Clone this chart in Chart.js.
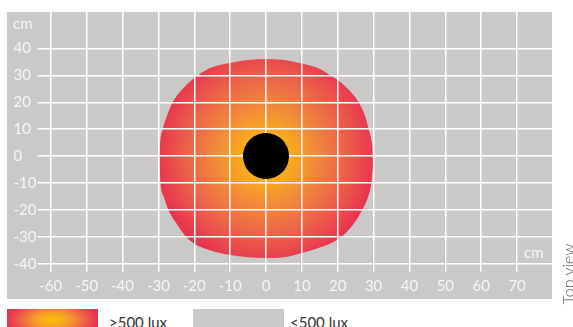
<!DOCTYPE html>
<html>
<head>
<meta charset="utf-8">
<script src="https://cdn.jsdelivr.net/npm/chart.js@4/dist/chart.umd.min.js"></script>
<style>
  html, body { margin: 0; padding: 0; background: #ffffff; overflow: hidden; }
  body { width: 573px; height: 327px; position: relative; font-family: Lato, "Noto Sans", sans-serif; }
  #wrap { position: absolute; left: 7px; top: 12px; width: 545px; height: 287px; background: #cbc9c7; }
  .unit { position: absolute; font-size: 15px; line-height: 18px; color: #f6f6f6; white-space: nowrap; }
  .swatch { position: absolute; top: 309px; width: 91px; height: 22px; }
  .leg { position: absolute; top: 313px; font-size: 15px; line-height: 18px; color: #333333; white-space: nowrap; }
  #side { position: absolute; left: 567.5px; top: 274px; transform: translate(-50%, -50%) rotate(-90deg);
          font-size: 16px; line-height: 18px; color: #5a5a5a; white-space: nowrap; font-weight: 300; }
</style>
</head>
<body>
<div id="wrap"><canvas id="c"></canvas></div>
<span class="unit" id="unitY" style="left:13px; top:14px;"></span>
<span class="unit" id="unitX" style="left:524px; top:243px;"></span>
<div class="swatch" style="left:7px; background: radial-gradient(ellipse 50% 90% at 50% 50%, #fcc204 0%, #f59a2c 40%, #ec5a48 75%, #e8334d 100%);"></div>
<span class="leg" id="leg0" style="left:109px;"></span>
<div class="swatch" style="left:193px; background:#cbc9c7;"></div>
<span class="leg" id="leg1" style="left:290px;"></span>
<span id="side"></span>
<script>
// ---- data (cm) ----
const xTicks = [-60, -50, -40, -30, -20, -10, 0, 10, 20, 30, 40, 50, 60, 70];
const yTicks = [-40, -30, -20, -10, 0, 10, 20, 30, 40];
const unitLabel = 'cm';
const legendLabels = ['>500 lux', '<500 lux'];
const sideLabel = 'Top view';

// upper edge of the >500 lux zone
const upperX = [-29.7, -29.5, -28.8, -27.6, -26.0, -23.2, -19.0, -15.0, -10.0, -5.0, 0.0, 5.0, 10.0, 15.0, 18.0, 22.0, 25.8, 27.6, 28.6, 29.5, 29.8];
const upperY = [0, 5, 10, 15, 20, 25, 30, 33.0, 34.6, 35.7, 36.1, 35.7, 34.4, 32.4, 30, 26, 20, 15, 10, 5, 0];
// lower edge of the >500 lux zone
const lowerX = [-29.7, -29.6, -29.4, -28.5, -27.2, -25.0, -22.3, -20.0, -15.0, -10.0, -5.0, 0.0, 5.0, 10.0, 15.0, 20.0, 22.5, 24.8, 26.8, 28.5, 29.4, 29.8, 29.8];
const lowerY = [0, -5, -10, -15, -20, -25, -30, -32.6, -35.3, -36.8, -37.6, -37.9, -37.6, -36.0, -34.0, -31.0, -28.2, -24.5, -20, -15, -10, -5, 0];
// lamp position
const lampX = [0];
const lampY = [0];

document.getElementById('unitY').textContent = unitLabel;
document.getElementById('unitX').textContent = unitLabel;
document.getElementById('leg0').textContent = legendLabels[0];
document.getElementById('leg1').textContent = legendLabels[1];
document.getElementById('side').textContent = sideLabel;

const toPts = (xs, ys) => xs.map((x, i) => ({ x: x, y: ys[i] }));

function zoneGradient(context) {
  const chart = context.chart;
  if (!chart.chartArea) return '#ee7048';
  const cx = chart.scales.x.getPixelForValue(lampX[0]);
  const cy = chart.scales.y.getPixelForValue(lampY[0]);
  const g = chart.ctx.createRadialGradient(cx, cy, 0, cx, cy, 110);
  g.addColorStop(0.0, '#fbbd0e');
  g.addColorStop(0.22, '#f8ab1c');
  g.addColorStop(0.45, '#f18a3a');
  g.addColorStop(0.70, '#ec6648');
  g.addColorStop(0.92, '#e9414e');
  g.addColorStop(1.0, '#e8334d');
  return g;
}

// draw the lamp point again after the grid so it sits on top of the white lines
const lampOnTop = {
  id: 'lampOnTop',
  afterDraw(chart) {
    const meta = chart.getDatasetMeta(2);
    chart.ctx.save();
    meta.data.forEach(el => el.draw(chart.ctx, chart.chartArea));
    chart.ctx.restore();
  }
};

Chart.defaults.font.family = 'Lato, "Noto Sans", sans-serif';

new Chart(document.getElementById('c'), {
  type: 'line',
  data: {
    datasets: [
      {
        data: toPts(upperX, upperY),
        borderWidth: 0,
        borderColor: 'rgba(0,0,0,0)',
        pointRadius: 0,
        cubicInterpolationMode: 'monotone',
        fill: '+1',
        backgroundColor: zoneGradient
      },
      {
        data: toPts(lowerX, lowerY),
        borderWidth: 0,
        borderColor: 'rgba(0,0,0,0)',
        pointRadius: 0,
        cubicInterpolationMode: 'monotone',
        fill: false
      },
      {
        data: toPts(lampX, lampY),
        showLine: false,
        pointRadius: 23,
        pointHoverRadius: 23,
        pointBorderWidth: 0,
        pointBackgroundColor: '#000000',
        pointBorderColor: '#000000'
      }
    ]
  },
  options: {
    responsive: true,
    maintainAspectRatio: false,
    animation: false,
    events: [],
    layout: { autoPadding: false, padding: { left: 6.5, right: 0, top: 0, bottom: 0 } },
    plugins: { legend: { display: false }, tooltip: { enabled: false } },
    scales: {
      x: {
        type: 'linear',
        min: -62.03,
        max: 79.73,
        afterBuildTicks: s => { s.ticks = xTicks.map(v => ({ value: v })); },
        afterFit: s => { s.height = 35.3; s.paddingLeft = 0; s.paddingRight = 0; },
        grid: { color: '#ffffff', lineWidth: 1.5, tickLength: 8, z: 1 },
        border: { display: false },
        ticks: { color: '#f6f6f6', font: { size: 15 }, padding: 5, maxRotation: 0, autoSkip: false }
      },
      y: {
        type: 'linear',
        min: -40,
        max: 53.55,
        afterBuildTicks: s => { s.ticks = yTicks.map(v => ({ value: v })); },
        afterFit: s => { s.width = 30; s.paddingTop = 0; s.paddingBottom = 0; },
        grid: { color: '#ffffff', lineWidth: 1.5, tickLength: 6, z: 1 },
        border: { display: false },
        ticks: { color: '#f6f6f6', font: { size: 15 }, crossAlign: 'far', autoSkip: false }
      }
    }
  },
  plugins: [lampOnTop]
});
</script>
</body>
</html>
